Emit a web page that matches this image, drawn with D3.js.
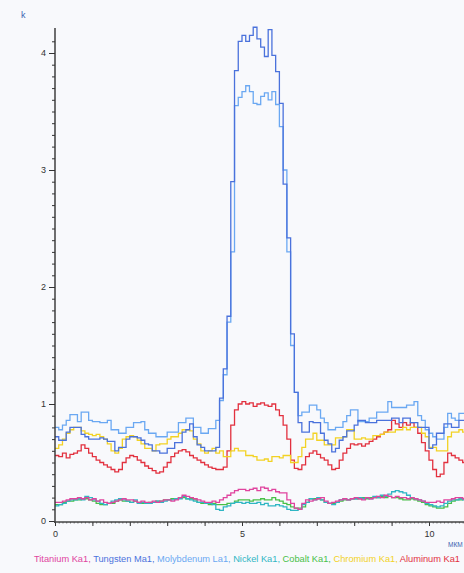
<!DOCTYPE html>
<html><head><meta charset="utf-8">
<script src="https://cdn.jsdelivr.net/npm/d3@7/dist/d3.min.js"></script>
<style>
html,body{margin:0;padding:0;background:#f8f9fc;}
svg{display:block;}
</style></head>
<body>
<svg id="chart" width="464" height="573"></svg>
<script>
// ---- data (bin width 0.1 µm, starting at 0) ----
const binWidth = 0.1;
const seriesNames = ["Titanium Ka1","Tungsten Ma1","Molybdenum La1","Nickel Ka1","Cobalt Ka1","Chromium Ka1","Aluminum Ka1"];
const yMajorTicks = [0,1,2,3,4];
const xMajorTicks = [0,5,10];

const titanium = [0.16,0.16,0.17,0.18,0.19, 0.19,0.20,0.19,0.20,0.18, 0.19,0.17,0.18,0.16,0.15, 0.16,0.17,0.18,0.19,0.18,
 0.18,0.17,0.16,0.17,0.16, 0.16,0.17,0.16,0.17,0.18, 0.18,0.17,0.18,0.20,0.22, 0.21,0.20,0.19,0.18,0.17,
 0.16,0.16,0.17,0.16,0.18, 0.20,0.22,0.24,0.26,0.27, 0.27,0.26,0.27,0.28,0.26, 0.29,0.28,0.26,0.27,0.25,
 0.24,0.24,0.18,0.15,0.11, 0.10,0.15,0.18,0.17,0.18, 0.19,0.20,0.17,0.15,0.16, 0.17,0.18,0.19,0.18,0.19,
 0.20,0.19,0.18,0.20,0.19, 0.20,0.21,0.20,0.22,0.21, 0.20,0.21,0.20,0.20,0.19, 0.20,0.19,0.18,0.17,0.16,
 0.16,0.16,0.17,0.16,0.18, 0.18,0.19,0.20,0.20,0.19];
const tungsten = [0.72,0.69,0.69,0.76,0.80, 0.80,0.80,0.74,0.72,0.70, 0.70,0.70,0.71,0.70,0.68, 0.68,0.60,0.63,0.63,0.70,
 0.72,0.72,0.71,0.69,0.66, 0.65,0.60,0.60,0.58,0.58, 0.62,0.62,0.67,0.67,0.76, 0.78,0.83,0.72,0.65,0.63,
 0.60,0.60,0.60,0.63,1.05, 1.30,1.75,2.90,3.85,4.10, 4.15,4.10,4.15,4.22,4.12, 4.05,3.97,4.20,3.98,3.84,
 3.57,2.88,2.42,1.60,1.10, 0.84,0.76,0.76,0.85,0.84, 0.84,0.75,0.69,0.66,0.59, 0.62,0.69,0.72,0.77,0.77,
 0.82,0.86,0.86,0.84,0.84, 0.84,0.86,0.86,0.86,0.86, 0.88,0.88,0.84,0.88,0.88, 0.84,0.84,0.80,0.80,0.80,
 0.62,0.65,0.75,0.75,0.83, 0.83,0.80,0.80,0.86,0.86];
const molybdenum = [0.80,0.78,0.82,0.86,0.91, 0.91,0.85,0.93,0.93,0.86, 0.85,0.85,0.84,0.84,0.86, 0.78,0.78,0.75,0.75,0.80,
 0.80,0.84,0.84,0.85,0.78, 0.75,0.75,0.72,0.72,0.72, 0.76,0.76,0.76,0.84,0.84, 0.88,0.88,0.80,0.80,0.75,
 0.75,0.79,0.79,0.86,1.03, 1.25,1.70,2.30,3.55,3.62, 3.67,3.72,3.67,3.57,3.56, 3.63,3.66,3.60,3.67,3.56,
 3.37,3.00,2.30,1.50,1.10, 0.90,0.93,0.93,0.99,0.99, 0.95,0.88,0.84,0.78,0.78, 0.80,0.80,0.85,0.90,0.95,
 0.95,0.85,0.85,0.85,0.88, 0.88,0.93,0.93,0.93,1.02, 0.97,0.97,0.97,0.97,0.99, 0.99,1.02,0.90,0.86,0.78,
 0.75,0.72,0.70,0.70,0.80, 0.92,0.88,0.86,0.92,0.92];
const nickel = [0.13,0.14,0.15,0.17,0.18, 0.18,0.19,0.18,0.21,0.20, 0.18,0.17,0.15,0.14,0.15, 0.17,0.18,0.19,0.18,0.17,
 0.16,0.18,0.15,0.16,0.15, 0.15,0.16,0.17,0.16,0.17, 0.18,0.18,0.19,0.19,0.21, 0.19,0.18,0.17,0.16,0.16,
 0.15,0.15,0.14,0.10,0.09, 0.12,0.13,0.15,0.16,0.16, 0.15,0.16,0.15,0.15,0.16, 0.14,0.15,0.13,0.13,0.14,
 0.13,0.12,0.10,0.09,0.09, 0.10,0.14,0.16,0.19,0.18, 0.20,0.18,0.16,0.15,0.14, 0.16,0.18,0.19,0.18,0.19,
 0.19,0.20,0.19,0.20,0.19, 0.21,0.20,0.22,0.21,0.23, 0.25,0.26,0.25,0.24,0.22, 0.20,0.19,0.18,0.17,0.15,
 0.14,0.13,0.12,0.13,0.15, 0.17,0.18,0.18,0.19,0.18];
const cobalt = [0.14,0.14,0.16,0.17,0.17, 0.18,0.18,0.19,0.19,0.18, 0.17,0.15,0.14,0.14,0.15, 0.15,0.17,0.18,0.17,0.17,
 0.16,0.17,0.16,0.15,0.15, 0.16,0.16,0.17,0.17,0.18, 0.18,0.19,0.19,0.20,0.20, 0.19,0.19,0.18,0.16,0.15,
 0.15,0.14,0.15,0.14,0.14, 0.14,0.15,0.15,0.17,0.18, 0.18,0.18,0.17,0.18,0.18, 0.19,0.18,0.18,0.20,0.18,
 0.17,0.15,0.14,0.12,0.11, 0.11,0.12,0.16,0.19,0.19, 0.19,0.18,0.16,0.15,0.15, 0.16,0.17,0.18,0.18,0.19,
 0.19,0.19,0.20,0.19,0.20, 0.20,0.20,0.21,0.20,0.21, 0.20,0.20,0.19,0.18,0.18, 0.19,0.18,0.17,0.16,0.14,
 0.13,0.12,0.11,0.11,0.12, 0.15,0.17,0.18,0.18,0.19];
const chromium = [0.62,0.65,0.70,0.75,0.78, 0.80,0.80,0.77,0.75,0.74, 0.73,0.74,0.72,0.70,0.66, 0.60,0.58,0.62,0.70,0.72,
 0.73,0.72,0.69,0.66,0.62, 0.62,0.60,0.65,0.66,0.66, 0.70,0.72,0.72,0.75,0.78, 0.78,0.77,0.70,0.66,0.60,
 0.58,0.60,0.62,0.58,0.60, 0.55,0.55,0.60,0.62,0.60, 0.60,0.56,0.56,0.55,0.52, 0.52,0.53,0.51,0.55,0.55,
 0.54,0.56,0.56,0.50,0.50, 0.55,0.63,0.70,0.70,0.75, 0.69,0.69,0.65,0.65,0.65, 0.71,0.71,0.72,0.78,0.78,
 0.70,0.70,0.71,0.70,0.70, 0.73,0.73,0.74,0.76,0.76, 0.76,0.78,0.78,0.80,0.78, 0.80,0.80,0.80,0.75,0.72,
 0.63,0.63,0.60,0.60,0.60, 0.72,0.76,0.76,0.78,0.76];
const aluminum = [0.56,0.55,0.58,0.54,0.57, 0.58,0.60,0.65,0.62,0.58, 0.55,0.52,0.50,0.48,0.46, 0.44,0.42,0.44,0.50,0.54,
 0.56,0.55,0.52,0.50,0.47, 0.45,0.43,0.41,0.42,0.46, 0.50,0.55,0.58,0.60,0.61, 0.59,0.56,0.54,0.52,0.50,
 0.48,0.46,0.45,0.44,0.44, 0.46,0.60,0.82,0.95,1.00, 1.02,1.00,1.01,0.98,1.00, 1.01,0.99,0.98,1.00,0.95,
 0.90,0.82,0.70,0.52,0.45, 0.44,0.48,0.55,0.58,0.60, 0.57,0.54,0.52,0.48,0.44, 0.45,0.52,0.58,0.62,0.66,
 0.65,0.66,0.64,0.66,0.68, 0.70,0.72,0.74,0.76,0.78, 0.86,0.83,0.80,0.84,0.82, 0.84,0.80,0.75,0.67,0.60,
 0.52,0.44,0.38,0.40,0.50, 0.58,0.56,0.54,0.52,0.50];

const colors = {
  "Titanium Ka1":"#e0449e","Tungsten Ma1":"#4a72dc","Molybdenum La1":"#6aa8f2",
  "Nickel Ka1":"#2fb6c4","Cobalt Ka1":"#48c048","Chromium Ka1":"#f2d224","Aluminum Ka1":"#e2303e"
};
const valuesByName = {
  "Titanium Ka1":titanium,"Tungsten Ma1":tungsten,"Molybdenum La1":molybdenum,
  "Nickel Ka1":nickel,"Cobalt Ka1":cobalt,"Chromium Ka1":chromium,"Aluminum Ka1":aluminum
};
const drawOrder = ["Cobalt Ka1","Nickel Ka1","Titanium Ka1","Aluminum Ka1","Chromium Ka1","Molybdenum La1","Tungsten Ma1"];

// ---- drawing ----
const svg = d3.select("#chart");
const x = d3.scaleLinear().domain([0,10]).range([55,429]);
const y = d3.scaleLinear().domain([0,4]).range([521,53]);

const line = d3.line().x(d=>x(d[0])).y(d=>y(d[1])).curve(d3.curveStepAfter);

svg.append("defs").append("clipPath").attr("id","clip")
  .append("rect").attr("x",55).attr("y",20).attr("width",409).attr("height",505);

const g = svg.append("g").attr("clip-path","url(#clip)");
drawOrder.forEach(name=>{
  const vals = valuesByName[name];
  const pts = vals.map((v,i)=>[i*binWidth, v]);
  pts.push([vals.length*binWidth, vals[vals.length-1]]);
  g.append("path").datum(pts).attr("d",line)
    .attr("fill","none").attr("stroke",colors[name]).attr("stroke-width",1.3);
});

const fontFam = "Arial, 'Liberation Sans', sans-serif";

// y axis
const yMinor = d3.range(0, 42).map(i=>i/10);
svg.append("g").attr("transform","translate(55,0)")
  .call(d3.axisLeft(y).tickValues(yMinor).tickSize(3).tickFormat(""))
  .call(a=>{a.select(".domain").remove(); a.selectAll("line").attr("stroke","#333").attr("stroke-width",1);});
svg.append("g").attr("transform","translate(55,0)")
  .call(d3.axisLeft(y).tickValues(yMajorTicks).tickSize(6).tickPadding(3).tickFormat(d3.format("d")))
  .call(a=>{a.select(".domain").remove(); a.selectAll("line").attr("stroke","#333").attr("stroke-width",1);
    a.selectAll("text").attr("font-family",fontFam).attr("font-size",9).attr("fill","#333");});
svg.append("line").attr("x1",55).attr("x2",55).attr("y1",28).attr("y2",523).attr("stroke","#333").attr("stroke-width",1.4);

// x axis
const xMinor = d3.range(0, 110).map(i=>i/10);
svg.append("g").attr("transform","translate(0,522)")
  .call(d3.axisBottom(x).tickValues(xMinor).tickSize(1.5).tickFormat(""))
  .call(a=>{a.select(".domain").remove(); a.selectAll("line").attr("stroke","#555").attr("stroke-width",0.8);});
svg.append("g").attr("transform","translate(0,522)")
  .call(d3.axisBottom(x).tickValues(d3.range(0,11)).tickSize(4).tickFormat(d=>xMajorTicks.includes(d)?d:""))
  .call(a=>{a.select(".domain").remove(); a.selectAll("line").attr("stroke","#333").attr("stroke-width",1);
    a.selectAll("text").attr("font-family",fontFam).attr("font-size",9).attr("fill","#333").attr("dy","0.9em");});
svg.append("line").attr("x1",54).attr("x2",464).attr("y1",522).attr("y2",522).attr("stroke","#444").attr("stroke-width",1.6);

// unit labels
svg.append("text").attr("x",21).attr("y",18).text("k")
  .attr("font-family",fontFam).attr("font-size",9).attr("fill","#3a5fb0");
svg.append("text").attr("x",448).attr("y",547).text("МКМ")
  .attr("font-family",fontFam).attr("font-size",6.5).attr("fill","#3a5fb0");

// legend
const leg = svg.append("text").attr("x",34).attr("y",562)
  .attr("font-family",fontFam).attr("font-size",9.2)
  .attr("textLength",426).attr("lengthAdjust","spacingAndGlyphs");
seriesNames.forEach((n,i)=>{
  leg.append("tspan").attr("fill",colors[n]).text(n + (i<seriesNames.length-1?", ":""));
});
</script>
</body></html>
